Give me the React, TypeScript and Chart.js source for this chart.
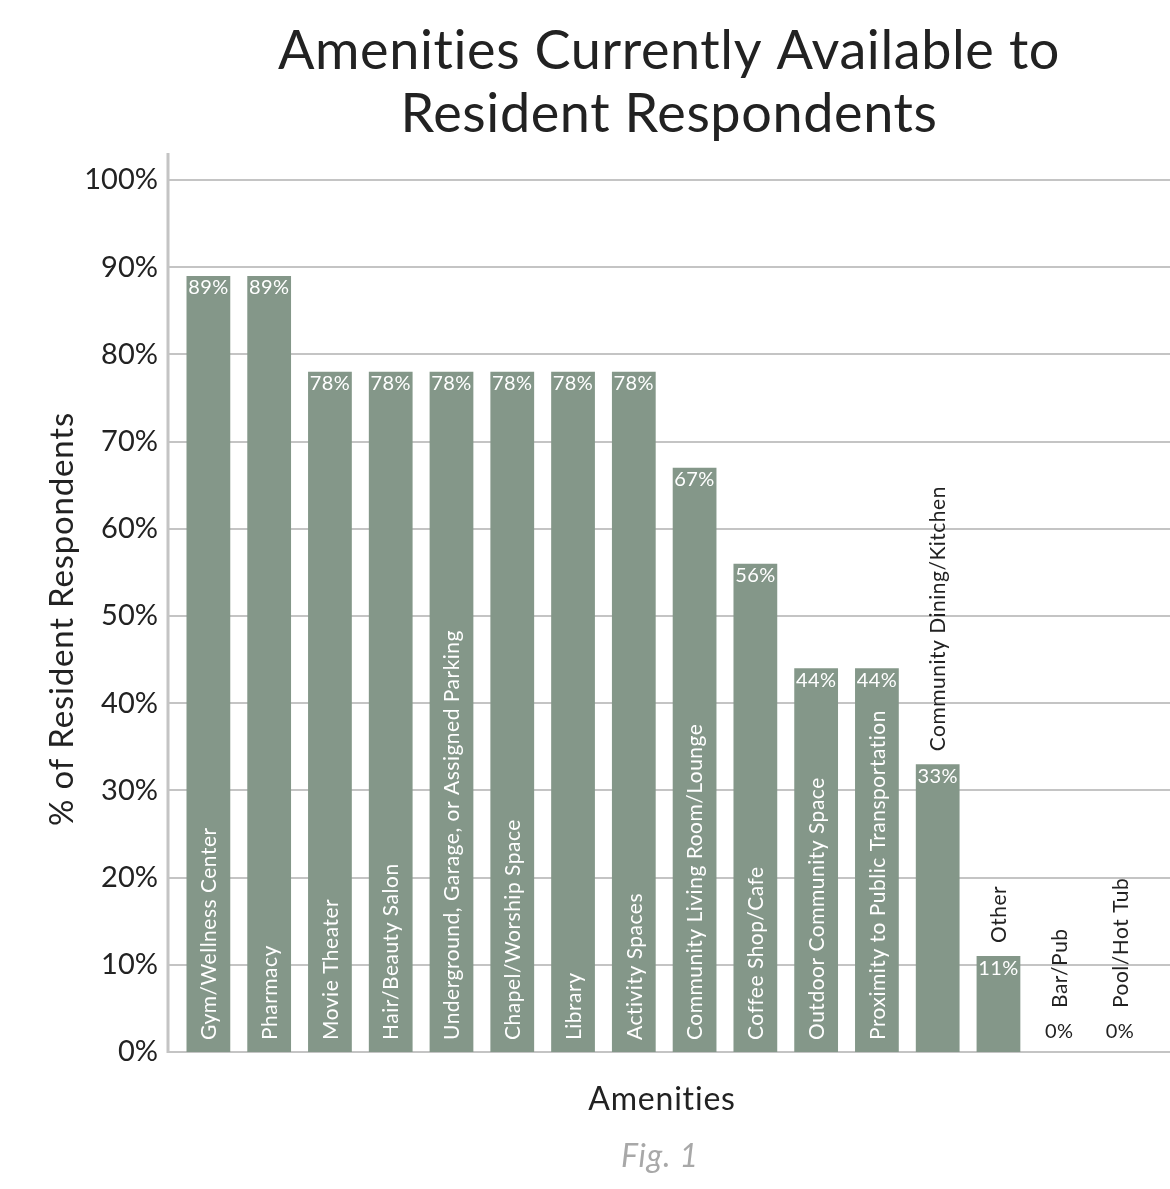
import React, { useEffect, useRef } from "react";
import { Chart, registerables } from "chart.js";

Chart.register(...registerables);

const categories = [
  "Gym/Wellness Center",
  "Pharmacy",
  "Movie Theater",
  "Hair/Beauty Salon",
  "Underground, Garage, or Assigned Parking",
  "Chapel/Worship Space",
  "Library",
  "Activity Spaces",
  "Community Living Room/Lounge",
  "Coffee Shop/Cafe",
  "Outdoor Community Space",
  "Proximity to Public Transportation",
  "Community Dining/Kitchen",
  "Other",
  "Bar/Pub",
  "Pool/Hot Tub",
];
const values = [89, 89, 78, 78, 78, 78, 78, 78, 67, 56, 44, 44, 33, 11, 0, 0];
const titleLines = ["Amenities Currently Available to", "Resident Respondents"];
const yTitle = "% of Resident Respondents";
const xTitle = "Amenities";
const figCaption = "Fig. 1";

const FONT = "Lato, 'Noto Sans', sans-serif";
const DARK = "#222222";
const BAR = "#849789";
const GRID = "#c4c4c4";

const W = 1170;
const H = 1189;

function setSpacing(ctx: any, s: string) {
  try {
    ctx.letterSpacing = s;
  } catch (e) {}
}

const decorPlugin = {
  id: "decor",
  beforeDatasetsDraw(chart: any) {
    const ctx = chart.ctx;
    const ys = chart.scales.y;
    ctx.save();
    ctx.strokeStyle = GRID;
    ctx.lineWidth = 2;
    ys.ticks.forEach((t: any) => {
      const py = Math.round(ys.getPixelForValue(t.value));
      ctx.beginPath();
      ctx.moveTo(168, py);
      ctx.lineTo(W, py);
      ctx.stroke();
    });
    ctx.lineWidth = 3;
    ctx.beginPath();
    ctx.moveTo(168, 153);
    ctx.lineTo(168, ys.getPixelForValue(0) + 1);
    ctx.stroke();
    ctx.restore();
  },
  afterDatasetsDraw(chart: any) {
    const ctx = chart.ctx;
    const meta = chart.getDatasetMeta(0);
    ctx.save();
    meta.data.forEach((bar: any, i: number) => {
      const v = values[i];
      const x = bar.x;
      const top = bar.y;
      const base = bar.base;
      setSpacing(ctx, "0.4px");
      ctx.font = `20px ${FONT}`;
      ctx.textAlign = "center";
      ctx.textBaseline = "middle";
      if (v > 0) {
        ctx.fillStyle = "#ffffff";
        ctx.fillText(v + "%", x, top + 12);
      } else {
        ctx.fillStyle = DARK;
        ctx.fillText(v + "%", x, base - 20);
      }
      ctx.font = `21px ${FONT}`;
      setSpacing(ctx, "0.5px");
      const w = ctx.measureText(categories[i]).width;
      const h = base - top;
      let startY: number;
      if (v > 0 && h >= w + 12 + 32) {
        ctx.fillStyle = "#ffffff";
        startY = base - 12;
      } else {
        ctx.fillStyle = DARK;
        startY = v > 0 ? top - 13 : base - 44;
      }
      ctx.save();
      ctx.translate(x + 1, startY);
      ctx.rotate(-Math.PI / 2);
      ctx.textAlign = "left";
      ctx.textBaseline = "middle";
      ctx.fillText(categories[i], 0, 0);
      ctx.restore();
    });
    ctx.restore();
  },
  afterDraw(chart: any) {
    const ctx = chart.ctx;
    ctx.save();
    ctx.fillStyle = DARK;
    ctx.textAlign = "center";
    ctx.textBaseline = "middle";
    setSpacing(ctx, "0.6px");
    ctx.font = `54px ${FONT}`;
    ctx.fillText(titleLines[0], 669, 52);
    ctx.fillText(titleLines[1], 669, 115);
    setSpacing(ctx, "0.8px");
    ctx.font = `32px ${FONT}`;
    ctx.fillText(xTitle, 662, 1100);
    ctx.save();
    ctx.translate(62, 619);
    ctx.rotate(-Math.PI / 2);
    ctx.font = `33px ${FONT}`;
    ctx.fillText(yTitle, 0, 0);
    ctx.restore();
    ctx.fillStyle = "#a8a8a8";
    ctx.font = `italic 32px ${FONT}`;
    ctx.fillText(figCaption, 660, 1157);
    ctx.restore();
  },
};

export default function App() {
  const ref = useRef<HTMLCanvasElement | null>(null);
  useEffect(() => {
    document.body.style.margin = "0";
    if (!ref.current) return;
    const chart = new Chart(ref.current, {
      type: "bar",
      data: {
        labels: categories,
        datasets: [
          {
            data: values,
            backgroundColor: BAR,
            categoryPercentage: 1,
            barPercentage: 0.72,
          },
        ],
      },
      options: {
        responsive: false,
        animation: false,
        devicePixelRatio: 1,
        layout: { padding: { top: 180, bottom: 137, left: 0, right: 19.6 } },
        plugins: { legend: { display: false }, tooltip: { enabled: false }, title: { display: false } },
        scales: {
          x: { display: false },
          y: {
            min: 0,
            max: 100,
            ticks: {
              stepSize: 10,
              padding: 20,
              color: DARK,
              font: { family: FONT, size: 29 },
              callback: (v: any) => v + "%",
            },
            grid: { display: false, drawTicks: false },
            border: { display: false },
            afterFit: (s: any) => {
              s.width = 178;
            },
          },
        },
      },
      plugins: [decorPlugin],
    });
    return () => chart.destroy();
  }, []);
  return (
    <div style={{ width: W, height: H }}>
      <canvas ref={ref} width={W} height={H} style={{ width: W, height: H, display: "block" }} />
    </div>
  );
}
